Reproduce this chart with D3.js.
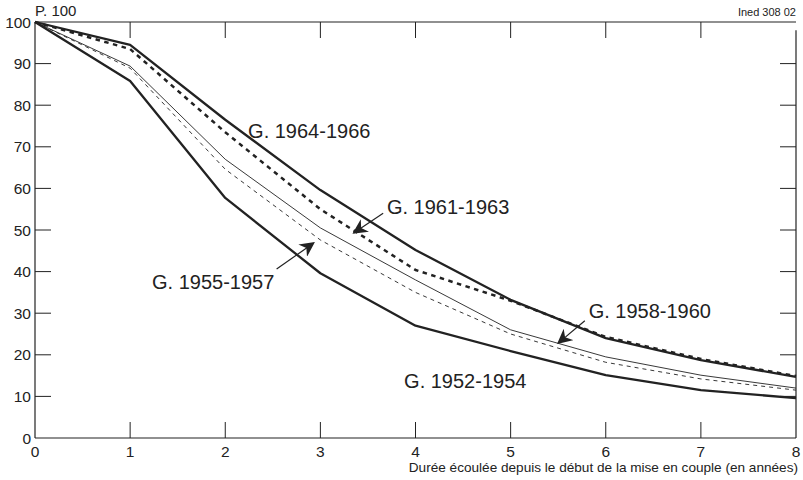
<!DOCTYPE html>
<meta charset="utf-8">
<script src="https://d3js.org/d3.v7.min.js"></script>
<style>
  body { margin: 0; background: #fff; }
  text { font-family: "Liberation Sans", Arial, sans-serif; fill: #222; }
</style>
<div id="chart"></div>
<script>

// years elapsed since start of the union
const years = [0, 1, 2, 3, 4, 5, 6, 7, 8];
const yTicks = [0, 10, 20, 30, 40, 50, 60, 70, 80, 90, 100];

// percent still in first union, by cohort
const g1964 = [100, 94.5, 76.5, 59.6, 45.2, 33.2, 24.0, 18.7, 14.7];
const g1961 = [100, 93.5, 73.5, 55.0, 40.4, 33.0, 24.3, 19.0, 14.9];
const g1958 = [100, 89.4, 67.0, 50.5, 38.0, 26.0, 19.5, 15.1, 12.0];
const g1955 = [100, 88.9, 64.6, 47.6, 35.0, 25.0, 18.2, 14.2, 11.5];
const g1952 = [100, 85.8, 57.7, 39.6, 27.0, 20.9, 15.1, 11.5, 9.6];

const margin = {top: 22, right: 7, bottom: 42, left: 35},
      width = 803 - margin.left - margin.right,
      height = 480 - margin.top - margin.bottom;

const svg = d3.select("#chart")
  .append("svg")
  .attr("width", 803)
  .attr("height", 480)
  .append("g")
  .attr("transform", `translate(${margin.left}, ${margin.top})`);

const x = d3.scaleLinear().domain([0, 8]).range([0, width]);
const y = d3.scaleLinear().domain([0, 100]).range([height, 0]);

const ink = "#222";

// frame
svg.append("line").attr("x1", 0).attr("x2", width).attr("y1", 0).attr("y2", 0)
  .attr("stroke", ink).attr("stroke-width", 1.2);
svg.append("line").attr("x1", 0).attr("x2", width).attr("y1", height).attr("y2", height)
  .attr("stroke", ink).attr("stroke-width", 1.2);
svg.append("line").attr("x1", 0).attr("x2", 0).attr("y1", 0).attr("y2", height)
  .attr("stroke", ink).attr("stroke-width", 1.2);
svg.append("line").attr("x1", width).attr("x2", width).attr("y1", y(98)).attr("y2", height)
  .attr("stroke", ink).attr("stroke-width", 1.2);

// inner ticks
const inner = years.filter(d => d > 0 && d < 8);
const innerY = yTicks.filter(d => d > 0 && d < 100);
svg.append("g").selectAll("line").data(inner).join("line")
  .attr("x1", d => x(d)).attr("x2", d => x(d))
  .attr("y1", height).attr("y2", height - 16)
  .attr("stroke", ink).attr("stroke-width", 1);
svg.append("g").selectAll("line").data(inner).join("line")
  .attr("x1", d => x(d)).attr("x2", d => x(d))
  .attr("y1", 0).attr("y2", 16)
  .attr("stroke", ink).attr("stroke-width", 1);
svg.append("g").selectAll("line").data(innerY).join("line")
  .attr("x1", 0).attr("x2", 16)
  .attr("y1", d => y(d)).attr("y2", d => y(d))
  .attr("stroke", ink).attr("stroke-width", 1);
svg.append("g").selectAll("line").data(innerY).join("line")
  .attr("x1", width).attr("x2", width - 16)
  .attr("y1", d => y(d)).attr("y2", d => y(d))
  .attr("stroke", ink).attr("stroke-width", 1);

// tick labels
svg.append("g").selectAll("text").data(yTicks).join("text")
  .attr("x", -4).attr("y", d => y(d) + 5.5)
  .attr("text-anchor", "end").attr("font-size", 15.5)
  .text(d => d);
svg.append("g").selectAll("text").data(years).join("text")
  .attr("x", d => x(d)).attr("y", height + 19)
  .attr("text-anchor", "middle").attr("font-size", 15.5)
  .text(d => d);

svg.append("text").attr("x", width + 2).attr("y", height + 34)
  .attr("text-anchor", "end").attr("font-size", 13.6)
  .text("Durée écoulée depuis le début de la mise en couple (en années)");
svg.append("text").attr("x", 0).attr("y", -6).attr("font-size", 15).text("P. 100");
svg.append("text").attr("x", width).attr("y", -6)
  .attr("text-anchor", "end").attr("font-size", 11).text("Ined 308 02");

// series
const line = d3.line().x((d, i) => x(years[i])).y(d => y(d));
const series = [
  {values: g1952, w: 2.3, dash: null},
  {values: g1955, w: 0.9, dash: "4,4"},
  {values: g1958, w: 0.9, dash: null},
  {values: g1961, w: 2.5, dash: "4.5,4.5"},
  {values: g1964, w: 2.3, dash: null}
];
svg.append("g").selectAll("path").data(series).join("path")
  .attr("d", d => line(d.values))
  .attr("fill", "none").attr("stroke", ink)
  .attr("stroke-width", d => d.w)
  .attr("stroke-dasharray", d => d.dash)
  .attr("stroke-linejoin", "round");

// labels and arrows
svg.append("defs").append("marker")
  .attr("id", "arr").attr("viewBox", "0 0 10 10")
  .attr("refX", 9).attr("refY", 5)
  .attr("markerWidth", 15).attr("markerHeight", 15)
  .attr("markerUnits", "userSpaceOnUse")
  .attr("orient", "auto")
  .append("path").attr("d", "M0,0 L10,5 L0,10 L3,5 Z").attr("fill", ink);

const labels = [
  {text: "G. 1964-1966", lx: 2.24, ly: 72.1, arrow: null},
  {text: "G. 1961-1963", lx: 3.7, ly: 53.8, arrow: [3.66, 54.0, 3.35, 49.3]},
  {text: "G. 1955-1957", lx: 1.23, ly: 35.8, arrow: [2.54, 40.6, 2.93, 46.9]},
  {text: "G. 1958-1960", lx: 5.82, ly: 28.8, arrow: [5.78, 28.2, 5.5, 22.8]},
  {text: "G. 1952-1954", lx: 3.88, ly: 12.0, arrow: null}
];
svg.append("g").selectAll("text").data(labels).join("text")
  .attr("x", d => x(d.lx)).attr("y", d => y(d.ly))
  .attr("font-size", 20).text(d => d.text);
svg.append("g").selectAll("line").data(labels.filter(d => d.arrow)).join("line")
  .attr("x1", d => x(d.arrow[0])).attr("y1", d => y(d.arrow[1]))
  .attr("x2", d => x(d.arrow[2])).attr("y2", d => y(d.arrow[3]))
  .attr("stroke", ink).attr("stroke-width", 1.2)
  .attr("marker-end", "url(#arr)");

</script>
